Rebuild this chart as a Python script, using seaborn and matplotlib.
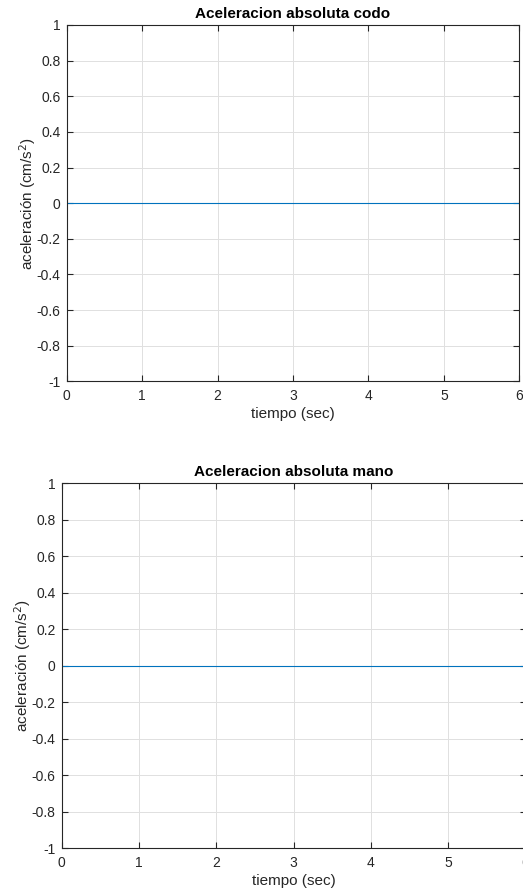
import matplotlib
matplotlib.use("Agg")
import matplotlib.pyplot as plt
import seaborn as sns
import pandas as pd

tiempo_codo = [0, 1, 2, 3, 4, 5, 6]
acel_codo = [0, 0, 0, 0, 0, 0, 0]
tiempo_mano = [0, 1, 2, 3, 4, 5, 6]
acel_mano = [0, 0, 0, 0, 0, 0, 0]
xticks = [0, 1, 2, 3, 4, 5, 6]
yticks = [-1, -0.8, -0.6, -0.4, -0.2, 0, 0.2, 0.4, 0.6, 0.8, 1]
titles = ["Aceleracion absoluta codo", "Aceleracion absoluta mano"]

sns.set_theme(style="white")
plt.rcParams['font.family'] = ['Liberation Sans', 'DejaVu Sans']
plt.rcParams['mathtext.fontset'] = 'custom'
plt.rcParams['mathtext.rm'] = 'Liberation Sans'
plt.rcParams['mathtext.it'] = 'Liberation Sans'

fig = plt.figure(figsize=(5.23, 8.96), dpi=100)
positions = [
    [0.1275, 0.5744, 0.8654, 0.3977],
    [0.118, 0.0532, 0.8868, 0.4074],
]
datasets = [(tiempo_codo, acel_codo), (tiempo_mano, acel_mano)]
axcol = '#262626'
for pos, (t, a), title in zip(positions, datasets, titles):
    ax = fig.add_axes(pos)
    df = pd.DataFrame({"t": t, "a": a})
    sns.lineplot(data=df, x="t", y="a", ax=ax, color='#0072BD', linewidth=0.8)
    ax.set_xlim(0, 6)
    ax.set_ylim(-1, 1)
    ax.set_xticks(xticks)
    ax.set_xticklabels([str(v) for v in xticks])
    ax.set_yticks(yticks)
    ax.set_yticklabels([('%g' % v) for v in yticks])
    ax.grid(True, color='#e0e0e0', linewidth=0.7)
    ax.set_axisbelow(True)
    for s in ax.spines.values():
        s.set_visible(True)
        s.set_color(axcol)
        s.set_linewidth(0.8)
    ax.tick_params(direction='in', length=4, width=0.8, color=axcol,
                   labelsize=10, labelcolor=axcol, top=True, right=True,
                   left=True, bottom=True)
    ax.tick_params(axis='y', pad=4.3)
    ax.tick_params(axis='x', pad=5.5)
    ax.set_title(title, fontsize=11, fontweight='bold', color='black', pad=5)
    ax.set_xlabel("tiempo (sec)", fontsize=11, color=axcol, labelpad=3)
    ax.set_ylabel("aceleración (cm/s$^{\\mathsf{2}}$)", fontsize=11, color=axcol, labelpad=-1)

fig.savefig("out.png", dpi=100)
